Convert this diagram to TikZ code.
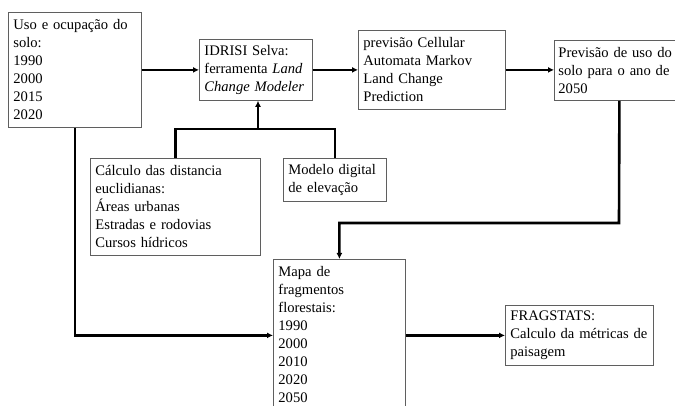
\documentclass[tikz,border=0pt]{standalone}
\usepackage{fontspec}
\setmainfont{Liberation Serif}
\usepackage{tikz}
\usetikzlibrary{arrows.meta,positioning,calc}
\definecolor{boxgray}{RGB}{95,95,95}

\begin{document}
\begin{tikzpicture}[x=1pt,y=-1pt,
  box/.style={draw=boxgray,line width=0.8pt,anchor=north west,align=left,
    inner xsep=5pt,inner ysep=4pt,font=\fontsize{14.6}{18}\selectfont},
  link/.style={line width=2.6pt},
  arr/.style={line width=2.6pt,-{Latex[length=6pt,width=6pt]}}]
  \useasboundingbox (0,0) rectangle (675,406);
  % top row
  \node[box,text width=123pt,minimum height=115pt] (uso) at (8,12)
    {Uso e ocupação do\\solo:\\1990\\2000\\2015\\2020};
  \node[box,text width=103pt,minimum height=61pt] (idrisi) at (199,39)
    {IDRISI Selva:\\ferramenta \textit{Land}\\\textit{Change Modeler}};
  \node[box,text width=137pt,minimum height=79pt] (ca) at (358,30)
    {previsão Cellular\\Automata Markov\\Land Change\\Prediction};
  \node[box,text width=114pt,inner xsep=4pt,minimum height=60pt] (prev) at (554,40)
    {\mbox{Previsão de uso do}\\\mbox{solo para o ano de}\\2050};
  % inputs below the model
  \node[box,text width=160pt,minimum height=97pt] (dist) at (90,158)
    {Cálculo das distancia\\euclidianas:\\Áreas urbanas\\Estradas e rodovias\\Cursos hídricos};
  \node[box,text width=93pt,minimum height=43pt] (mde) at (283,158)
    {Modelo digital\\de elevação};
  % outputs
  \node[box,text width=122pt,inner ysep=7pt] (mapa) at (273,259)
    {Mapa de\\fragmentos\\florestais:\\1990\\2000\\2010\\2020\\2050};
  \node[box,text width=138pt,minimum height=60pt] (frag) at (505,305)
    {FRAGSTATS:\\Calculo da métricas de\\paisagem};

  \coordinate (join) at (258,129);
  \coordinate (dturn) at (619,223);

  \draw[arr] (uso.east) -- (uso.east -| idrisi.west);
  \draw[arr] (idrisi.east) -- (idrisi.east -| ca.west);
  \draw[arr] (ca.east) -- (ca.east -| prev.west);
  \draw[link] (dist.north) |- (join) -| (mde.north);
  \draw[arr] (join) -- (join |- idrisi.south);
  \draw[arr] ([xshift=4pt]prev.south) -- (dturn) -| (mapa.north);
  \draw[arr] (uso.south) |- (mapa.west |- frag.west);
  \draw[arr] (mapa.east |- frag.west) -- (frag.west);
\end{tikzpicture}
\end{document}
